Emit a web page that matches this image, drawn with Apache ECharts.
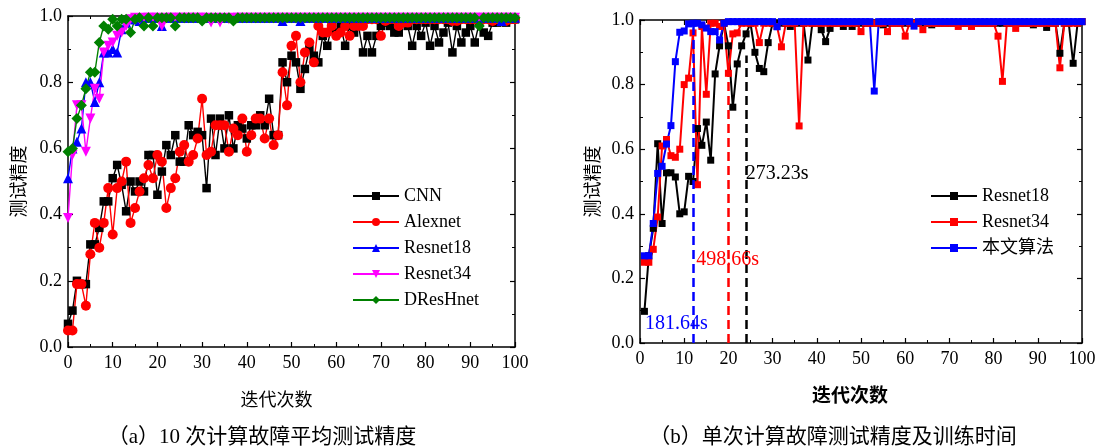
<!DOCTYPE html>
<html><head><meta charset="utf-8">
<script src="https://cdn.jsdelivr.net/npm/echarts@6/dist/echarts.min.js"></script>
<style>html,body{margin:0;padding:0;background:#fff}#c{width:1101px;height:448px}</style>
</head><body><div id="c"></div><script>
// ---------- data: chart (a) ----------
const iterA = Array.from({length: 101}, (_, i) => i);   // iterations 0..100
const cnnA = [
 0.07,0.11,0.20,0.19,0.19,0.31,0.31,0.36,0.44,0.44,
 0.51,0.55,0.49,0.41,0.50,0.47,0.50,0.47,0.58,0.58,
 0.46,0.53,0.61,0.58,0.64,0.56,0.56,0.67,0.64,0.65,
 0.64,0.48,0.69,0.58,0.69,0.60,0.70,0.60,0.67,0.66,
 0.63,0.67,0.67,0.70,0.67,0.75,0.64,0.64,0.86,0.80,
 0.88,0.86,0.78,0.84,0.90,0.88,0.86,0.94,0.91,0.97,
 0.95,0.97,0.91,0.97,0.95,0.97,0.89,0.94,0.89,0.94,
 0.97,0.98,0.97,0.95,0.95,0.98,0.97,0.91,0.97,0.94,
 0.98,0.91,0.97,0.92,0.95,0.98,0.89,0.97,0.92,0.95,
 0.97,0.92,0.98,0.95,0.94,0.98,0.98,0.99,0.98,0.99,
 0.99];
const alexA = [
 0.05,0.05,0.19,0.19,0.125,0.28,0.375,0.30,0.375,0.48,
 0.34,0.48,0.50,0.56,0.375,0.42,0.47,0.51,0.55,0.51,
 0.58,0.56,0.42,0.48,0.51,0.59,0.61,0.56,0.58,0.63,
 0.75,0.58,0.59,0.67,0.67,0.67,0.59,0.66,0.64,0.69,
 0.59,0.64,0.69,0.69,0.63,0.69,0.61,0.64,0.83,0.73,
 0.91,0.94,0.80,0.89,0.92,0.86,0.97,0.95,0.95,0.97,
 0.94,0.95,0.97,0.94,0.97,0.97,0.97,0.99,0.99,0.99,
 0.94,0.985,0.99,0.99,0.97,0.98,0.98,0.99,0.99,0.99,
 0.99,0.99,0.99,0.99,0.99,0.99,0.985,0.985,0.99,0.99,
 0.99,0.99,0.99,0.99,0.99,0.985,0.99,0.99,0.985,0.99,
 0.99];
const r18A = [
 0.51,0.60,0.62,0.66,0.80,0.80,0.74,0.80,0.89,0.89,
 0.90,0.89,0.96,0.98,0.99,0.99,0.985,0.995,0.995,0.995,
 0.995,0.97,0.995,0.995,0.995,0.995,0.995,0.995,0.995,0.995,
 0.995,0.995,0.995,0.995,0.995,0.995,0.995,0.995,0.995,0.995,
 0.995,0.995,0.995,0.995,0.995,0.995,0.995,0.995,0.985,0.995,
 0.995,0.995,0.985,0.995,0.995,0.995,0.995,0.995,0.995,0.995,
 0.995,0.995,0.995,0.995,0.995,0.995,0.995,0.995,0.995,0.995,
 0.995,0.995,0.995,0.995,0.995,0.995,0.995,0.995,0.995,0.995,
 0.995,0.995,0.995,0.995,0.995,0.995,0.995,0.995,0.995,0.995,
 0.995,0.995,0.995,0.995,0.995,0.995,0.995,0.985,0.995,0.995,
 0.995];
const r34A = [
 0.39,0.58,0.73,0.73,0.59,0.69,0.78,0.75,0.89,0.91,
 0.92,0.94,0.95,0.97,0.99,0.995,0.99,0.995,0.995,0.995,
 0.995,0.97,0.995,0.995,0.995,0.995,0.995,0.995,0.995,0.995,
 0.995,0.995,0.98,0.995,0.98,0.995,0.99,0.995,0.995,0.995,
 0.995,0.995,0.995,0.995,0.995,0.995,0.995,0.995,0.995,0.995,
 0.995,0.995,0.995,0.995,0.995,0.995,0.995,0.995,0.995,0.995,
 0.995,0.995,0.995,0.995,0.995,0.995,0.995,0.995,0.995,0.995,
 0.995,0.995,0.995,0.995,0.995,0.995,0.995,0.995,0.995,0.995,
 0.995,0.995,0.995,0.995,0.995,0.995,0.995,0.995,0.995,0.995,
 0.995,0.995,0.995,0.995,0.995,0.995,0.995,0.995,0.995,0.995,
 0.995];
const dresA = [
 0.59,0.60,0.69,0.73,0.78,0.83,0.83,0.92,0.97,0.96,
 0.99,0.97,0.99,0.99,0.95,0.99,0.995,0.97,0.995,0.97,
 0.995,0.995,0.995,0.995,0.97,0.995,0.995,0.995,0.995,0.995,
 0.985,0.995,0.995,0.995,0.995,0.995,0.995,0.985,0.995,0.995,
 0.995,0.995,0.995,0.995,0.995,0.995,0.995,0.995,0.995,0.995,
 0.995,0.995,0.995,0.995,0.995,0.995,0.995,0.995,0.995,0.995,
 0.995,0.995,0.995,0.995,0.995,0.995,0.995,0.995,0.995,0.995,
 0.995,0.995,0.995,0.995,0.995,0.995,0.995,0.995,0.995,0.995,
 0.995,0.995,0.995,0.995,0.995,0.995,0.995,0.995,0.995,0.995,
 0.995,0.995,0.97,0.995,0.995,0.995,0.995,0.995,0.995,0.995,
 0.995];
const namesA = ['CNN', 'Alexnet', 'Resnet18', 'Resnet34', 'DResHnet'];

// ---------- data: chart (b) ----------
const iterB = Array.from({length: 100}, (_, i) => i + 1); // iterations 1..100
const r18B = [
 0.098,0.27,0.355,0.617,0.37,0.527,0.527,0.514,0.40,0.406,
 0.516,0.50,0.664,0.612,0.684,0.566,0.833,0.92,0.99,0.92,
 0.73,0.864,0.92,0.957,0.99,0.90,0.85,0.84,0.93,0.99,
 0.99,0.99,0.99,0.98,0.99,0.99,0.99,0.876,0.99,0.99,
 0.97,0.933,0.974,0.99,0.99,0.98,0.99,0.98,0.99,0.99,
 0.99,0.99,0.99,0.99,0.985,0.99,0.99,0.99,0.99,0.99,
 0.99,0.99,0.99,0.99,0.99,0.985,0.99,0.99,0.99,0.99,
 0.99,0.99,0.99,0.99,0.99,0.99,0.99,0.99,0.99,0.99,
 0.99,0.99,0.99,0.99,0.99,0.99,0.99,0.99,0.985,0.99,
 0.99,0.977,0.99,0.99,0.897,0.99,0.99,0.866,0.99,0.995];
const r34B = [
 0.25,0.25,0.29,0.39,0.61,0.63,0.58,0.575,0.60,0.80,
 0.82,0.96,0.49,0.98,0.77,0.99,0.99,0.98,0.99,0.835,
 0.957,0.96,0.99,0.99,0.99,0.99,0.93,0.99,0.99,0.99,
 0.98,0.917,0.99,0.99,0.99,0.672,0.99,0.99,0.99,0.99,
 0.99,0.99,0.99,0.99,0.99,0.99,0.99,0.99,0.99,0.964,
 0.99,0.99,0.99,0.99,0.99,0.964,0.99,0.99,0.99,0.95,
 0.99,0.99,0.99,0.97,0.99,0.99,0.99,0.99,0.99,0.99,
 0.99,0.98,0.99,0.99,0.98,0.99,0.99,0.99,0.99,0.99,
 0.95,0.81,0.99,0.99,0.974,0.99,0.99,0.99,0.99,0.99,
 0.99,0.99,0.99,0.99,0.852,0.99,0.99,0.99,0.99,0.995];
const oursB = [
 0.27,0.27,0.37,0.525,0.547,0.616,0.673,0.871,0.962,0.966,
 0.988,0.99,0.99,0.985,0.975,0.964,0.964,0.938,0.99,0.995,
 0.995,0.995,0.995,0.995,0.995,0.995,0.995,0.995,0.995,0.995,
 0.979,0.995,0.995,0.995,0.995,0.995,0.995,0.995,0.995,0.995,
 0.995,0.995,0.995,0.995,0.995,0.995,0.995,0.995,0.995,0.995,
 0.995,0.995,0.78,0.995,0.995,0.995,0.995,0.995,0.995,0.995,
 0.995,0.981,0.995,0.995,0.995,0.995,0.995,0.995,0.995,0.995,
 0.995,0.995,0.995,0.995,0.995,0.995,0.995,0.995,0.995,0.995,
 0.995,0.995,0.995,0.995,0.995,0.995,0.995,0.995,0.995,0.995,
 0.995,0.995,0.995,0.995,0.995,0.995,0.995,0.995,0.995,0.995];
const namesB = ['Resnet18', 'Resnet34', '本文算法'];
const timeLabels = ['181.64s', '498.66s', '273.23s'];   // blue, red, black
const timeIter = [12, 20, 24];                          // dashed line positions
const dashTop = [1.0, 0.86, 0.89];

const yTicks = [0, 0.2, 0.4, 0.6, 0.8, 1.0];
const captionA = '（a）10 次计算故障平均测试精度';
const captionB = '（b）单次计算故障测试精度及训练时间';
const xTitle = '迭代次数';
const yTitle = '测试精度';

// ---------- chart ----------
const SERIF = "'Liberation Serif','Times New Roman',serif";
const CJK = "'Noto Sans CJK SC',sans-serif";
const MIX = "'Liberation Serif','Noto Sans CJK SC',serif";
const chart = echarts.init(document.getElementById('c'));
const pairs = (xs, ys) => xs.map((x, i) => [x, ys[i]]);
const axLine = {show: true, onZero: false, lineStyle: {color: '#000', width: 1.5}};
const tick = {show: true, inside: true, length: 5, lineStyle: {color: '#000', width: 1.2}};
const mtick = {show: true, splitNumber: 2, length: 3, lineStyle: {color: '#000', width: 1}};

function xAx(gi, pos, show, name, gap, nameStyle) {
  return {type: 'value', gridIndex: gi, position: pos, min: 0, max: 100, interval: 10,
    axisLine: axLine, axisTick: tick, minorTick: mtick,
    axisLabel: {show: show, color: '#000', fontFamily: SERIF, fontSize: 18, margin: 7},
    splitLine: {show: false}, minorSplitLine: {show: false},
    name: name || '', nameLocation: 'middle', nameGap: gap || 0, nameTextStyle: nameStyle || {}};
}
function yAx(gi, pos, show, name, gap, nameStyle) {
  return {type: 'value', gridIndex: gi, position: pos, min: yTicks[0], max: yTicks[yTicks.length - 1],
    interval: yTicks[1] - yTicks[0],
    axisLine: axLine, axisTick: tick, minorTick: mtick,
    axisLabel: {show: show, color: '#000', fontFamily: SERIF, fontSize: 18, margin: 6,
      formatter: v => v.toFixed(1)},
    splitLine: {show: false}, minorSplitLine: {show: false},
    name: name || '', nameLocation: 'middle', nameGap: gap || 0, nameTextStyle: nameStyle || {}};
}

const downTri = 'path://M0,0L10,0L5,9Z';
const stylesA = [
  {color: '#000000', symbol: 'rect', size: 8.5},
  {color: '#ff0000', symbol: 'circle', size: 10},
  {color: '#0000ff', symbol: 'triangle', size: 10},
  {color: '#ff00ff', symbol: downTri, size: 10},
  {color: '#008000', symbol: 'diamond', size: 11}
];
const valsA = [cnnA, alexA, r18A, r34A, dresA];
const series = valsA.map((v, k) => ({
  name: namesA[k], type: 'line', xAxisIndex: 0, yAxisIndex: 0,
  data: pairs(iterA, v), symbol: stylesA[k].symbol, symbolSize: stylesA[k].size,
  showAllSymbol: true, clip: false, animation: false,
  itemStyle: {color: stylesA[k].color}, lineStyle: {color: stylesA[k].color, width: 1.4}
}));

const colorsB = ['#000000', '#ff0000', '#0000ff'];
const valsB = [r18B, r34B, oursB];
const labelPos = [[1, 0.061], [12.6, 0.257], [23.8, 0.523]];
const orderB = [2, 1, 0]; // label index for each series (black, red, blue)
valsB.forEach((v, k) => {
  const li = orderB[k];
  series.push({
    name: namesB[k] + '(b)', type: 'line', xAxisIndex: 2, yAxisIndex: 2,
    data: pairs(iterB, v), symbol: 'rect', symbolSize: 7,
    showAllSymbol: true, clip: false, animation: false,
    itemStyle: {color: colorsB[k]}, lineStyle: {color: colorsB[k], width: 2},
    markLine: {silent: true, symbol: 'none', animation: false,
      lineStyle: {color: colorsB[k], type: [9, 5], width: 2.5},
      label: {show: false},
      data: [[{coord: [timeIter[li], 0]}, {coord: [timeIter[li], dashTop[li]]}]]},
    markPoint: {silent: true, animation: false, symbol: 'circle', symbolSize: 1,
      itemStyle: {color: 'rgba(0,0,0,0)'},
      label: {show: true, position: 'right', distance: 0, formatter: timeLabels[li],
        color: colorsB[k], fontFamily: SERIF, fontSize: 20},
      data: [{coord: labelPos[li]}]}
  });
});

const legendText = {fontFamily: SERIF, fontSize: 18, color: '#000', lineHeight: 20};
const capFont = "21px 'Liberation Serif','Noto Sans CJK SC'";
const option = {
  backgroundColor: '#fff',
  animation: false,
  grid: [
    {left: 68, top: 16, width: 447, height: 331},
    {left: 640, top: 20, width: 442, height: 323}
  ],
  xAxis: [
    xAx(0, 'bottom', true, xTitle, 43, {fontFamily: CJK, fontSize: 18, color: '#000', padding: [0, 30, 0, 0]}),
    xAx(0, 'top', false),
    xAx(1, 'bottom', true, xTitle, 42, {fontFamily: CJK, fontSize: 19, fontWeight: 'bold', color: '#000', padding: [0, 22, 0, 0]}),
    xAx(1, 'top', false)
  ],
  yAxis: [
    yAx(0, 'left', true, yTitle, 41, {fontFamily: CJK, fontSize: 18, color: '#000'}),
    yAx(0, 'right', false),
    yAx(1, 'left', true, yTitle, 39, {fontFamily: CJK, fontSize: 18, color: '#000'}),
    yAx(1, 'right', false)
  ],
  legend: [
    {data: namesA, orient: 'vertical', left: 347, top: 181, itemWidth: 46, itemHeight: 10, itemGap: 6,
      textStyle: legendText, selectedMode: false},
    {data: namesB.map(n => n + '(b)'), orient: 'vertical', left: 925, top: 181, itemWidth: 46, itemHeight: 10, itemGap: 6,
      textStyle: Object.assign({}, legendText, {fontFamily: MIX}), selectedMode: false,
      formatter: n => n.replace('(b)', '')}
  ],
  graphic: [
    {type: 'text', x: 262, y: 437, style: {text: captionA, font: capFont, fill: '#000',
      align: 'center', verticalAlign: 'middle', textAlign: 'center', textVerticalAlign: 'middle'}},
    {type: 'text', x: 833, y: 437, style: {text: captionB, font: capFont, fill: '#000',
      align: 'center', verticalAlign: 'middle', textAlign: 'center', textVerticalAlign: 'middle'}}
  ],
  series: series
};
chart.setOption(option);
</script></body></html>
